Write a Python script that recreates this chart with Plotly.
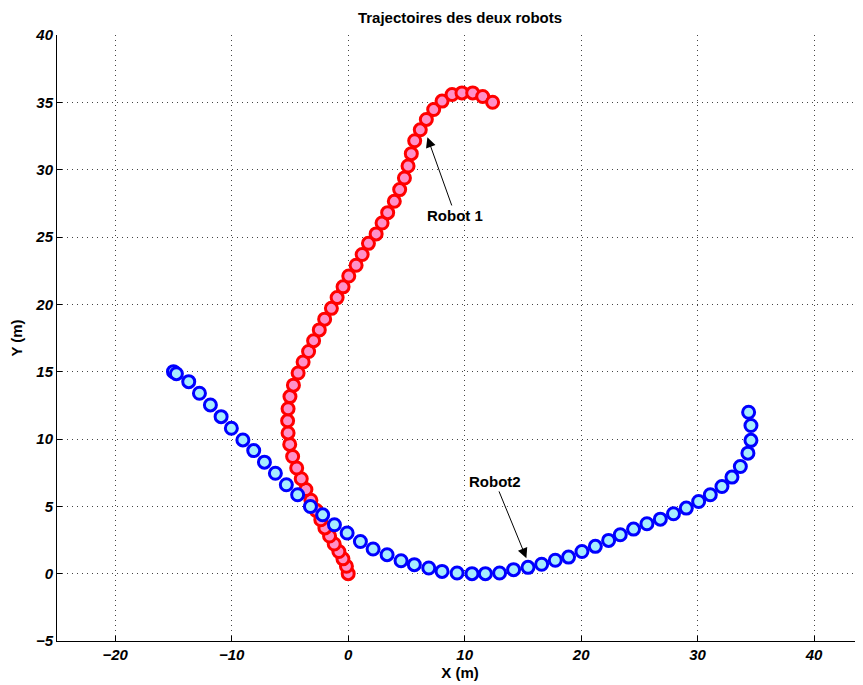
import plotly.graph_objects as go

# Robot 1 trajectory (red)
robot1_x = [0.0, -0.15, -0.45, -0.8, -1.2, -1.6, -2.0, -2.35, -2.75, -3.2, -3.63, -4.03,
            -4.42, -4.77, -5.02, -5.16, -5.2, -5.16, -5.0, -4.7, -4.3, -3.87, -3.4, -2.97,
            -2.48, -2.02, -1.44, -0.95, -0.44, 0.05, 0.68, 1.2, 1.74, 2.4, 2.91, 3.39,
            3.96, 4.42, 4.83, 5.14, 5.42, 5.71, 6.19, 6.71, 7.34, 8.06, 8.92, 9.77,
            10.69, 11.55, 12.4]
robot1_y = [0.0, 0.55, 1.1, 1.65, 2.2, 2.8, 3.4, 4.0, 4.7, 5.45, 6.25, 7.05,
            7.85, 8.7, 9.6, 10.45, 11.35, 12.25, 13.15, 14.0, 14.9, 15.72, 16.5, 17.3,
            18.1, 18.9, 19.7, 20.5, 21.3, 22.1, 22.9, 23.7, 24.53, 25.23, 26.04, 26.81,
            27.65, 28.52, 29.38, 30.27, 31.19, 32.15, 32.96, 33.73, 34.47, 35.09, 35.58, 35.7,
            35.7, 35.43, 35.01]

# Robot 2 trajectory (blue)
robot2_x = [-15.0, -14.75, -13.69, -12.77, -11.83, -10.91, -10.03, -9.04, -8.11, -7.19,
            -6.25, -5.31, -4.34, -3.24, -2.19, -1.18, -0.09, 1.05, 2.14, 3.34, 4.54, 5.68,
            6.92, 8.06, 9.35, 10.63, 11.78, 13.0, 14.2, 15.44, 16.61, 17.78, 18.92, 20.07,
            21.22, 22.36, 23.36, 24.5, 25.65, 26.8, 27.93, 29.03, 30.09, 31.09, 32.09,
            32.95, 33.67, 34.32, 34.58, 34.58, 34.38]
robot2_y = [15.0, 14.85, 14.26, 13.4, 12.53, 11.66, 10.8, 9.93, 9.14, 8.28,
            7.46, 6.6, 5.86, 4.99, 4.37, 3.63, 3.02, 2.39, 1.83, 1.41, 0.96, 0.67,
            0.42, 0.17, 0.05, 0.0, 0.0, 0.05, 0.3, 0.47, 0.7, 1.0, 1.23, 1.65,
            2.03, 2.47, 2.89, 3.31, 3.71, 4.05, 4.45, 4.87, 5.36, 5.86, 6.47,
            7.17, 7.96, 8.95, 9.9, 11.0, 11.99]

x_ticks = [-20, -10, 0, 10, 20, 30, 40]
y_ticks = [-5, 0, 5, 10, 15, 20, 25, 30, 35, 40]

# Annotation positions (data units): text centre and arrow tip
label1 = "Robot 1"
label1_text = (9.2, 26.6)
label1_tip = (6.8, 32.4)
label2 = "Robot2"
label2_text = (12.6, 6.85)
label2_tip = (15.3, 1.15)

FONT = "Liberation Sans, Arial, Helvetica, sans-serif"

W, H = 855, 677  # page body adds an 8px offset in the 863x685 window

fig = go.Figure()
fig.add_trace(go.Scatter(
    x=robot1_x, y=robot1_y, mode="markers", name="Robot 1",
    marker=dict(symbol="circle", size=12, color="#FF90C8",
                line=dict(color="#FF0000", width=3)),
    showlegend=False))
fig.add_trace(go.Scatter(
    x=robot2_x, y=robot2_y, mode="markers", name="Robot2",
    marker=dict(symbol="circle", size=12, color="#A6ECFF",
                line=dict(color="#0000FF", width=3)),
    showlegend=False))

for txt, (tx, ty), (hx, hy) in [(label1, label1_text, label1_tip),
                                (label2, label2_text, label2_tip)]:
    fig.add_annotation(
        x=hx, y=hy, ax=tx, ay=ty, xref="x", yref="y", axref="x", ayref="y",
        text="<b>%s</b>" % txt, showarrow=True, arrowhead=2, arrowsize=2,
        arrowwidth=1, arrowcolor="black", standoff=0, startstandoff=0,
        font=dict(family=FONT, size=15, color="black"))

axis_common = dict(
    showgrid=True, gridcolor="#444444", griddash="1px,4px", gridwidth=1,
    zeroline=False, showline=True, linecolor="black", linewidth=1,
    ticks="inside", ticklen=5, tickcolor="black", tickwidth=1,
    tickfont=dict(family=FONT, size=15, color="black", weight="bold", style="italic"),
    mirror=False, automargin=False,
)

fig.update_layout(
    width=W, height=H,
    margin=dict(l=49, r=0, t=27, b=44, autoexpand=False),
    paper_bgcolor="white", plot_bgcolor="white",
    title=dict(text="<b>Trajectoires des deux robots</b>", x=0.5, xref="paper",
               y=1 - 9.5 / H, yref="container", yanchor="middle", xanchor="center",
               automargin=False,
               font=dict(family=FONT, size=15, color="black")),
    xaxis=dict(range=[-25, 44.2], tickmode="array", tickvals=x_ticks,
               title=dict(text="<b>X (m)</b>", standoff=5,
                          font=dict(family=FONT, size=15, color="black")),
               **axis_common),
    yaxis=dict(range=[-5, 40], tickmode="array", tickvals=y_ticks,
               title=dict(text="<b>Y (m)</b>", standoff=10,
                          font=dict(family=FONT, size=15, color="black")),
               **axis_common),
)

fig.write_html("out.html")
